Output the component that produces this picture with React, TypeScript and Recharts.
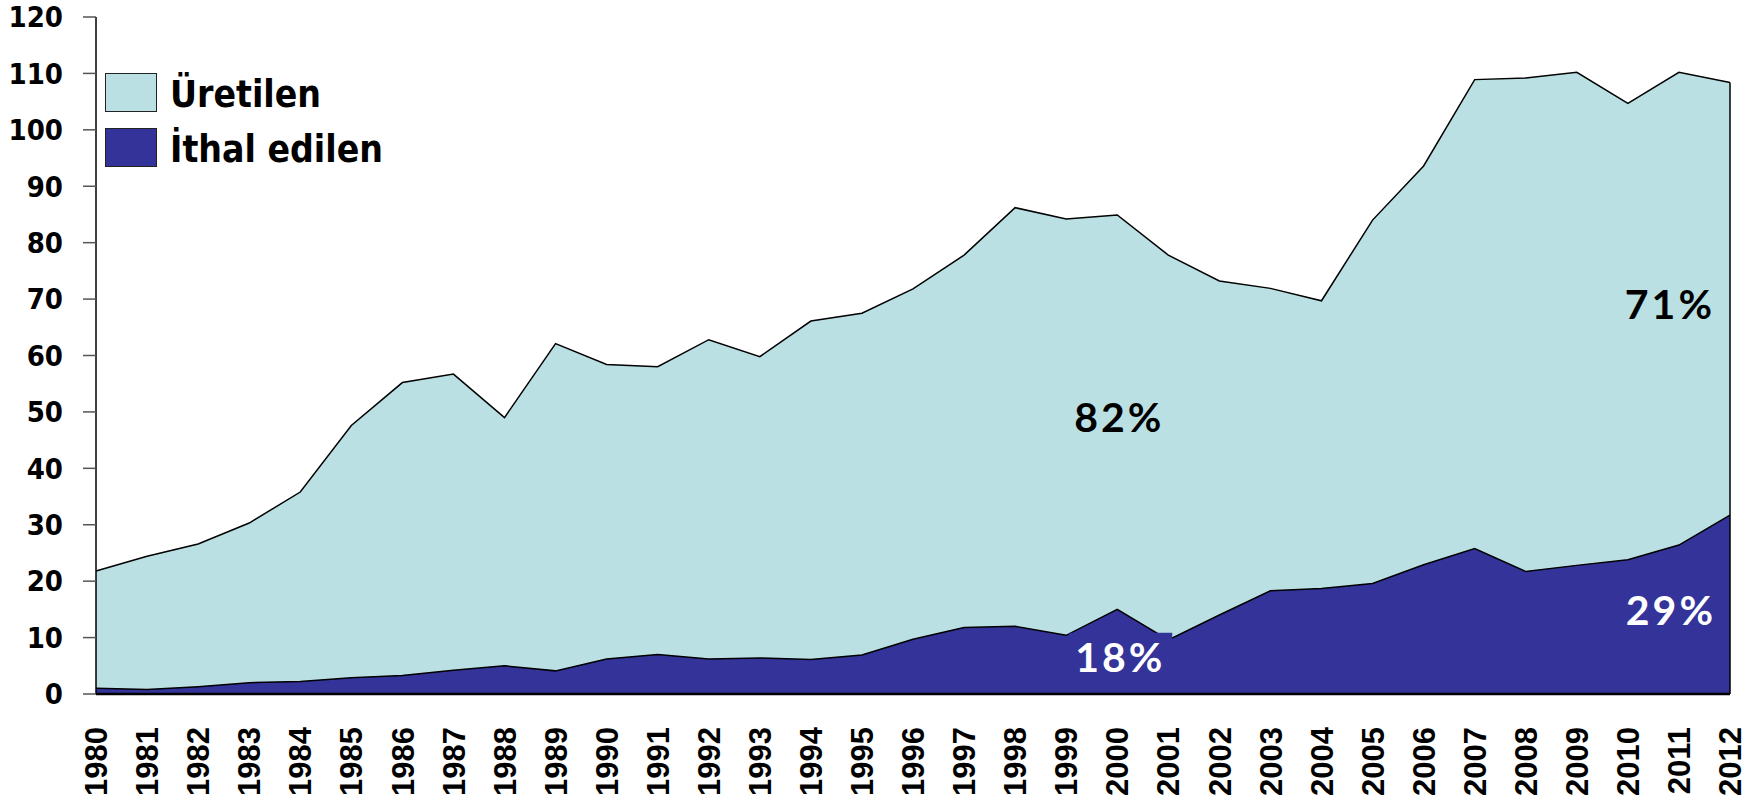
import React from 'react';
import { AreaChart, Area, XAxis, YAxis, ReferenceDot, ReferenceLine } from 'recharts';

const years = ['1980','1981','1982','1983','1984','1985','1986','1987','1988','1989','1990','1991','1992','1993','1994','1995','1996','1997','1998','1999','2000','2001','2002','2003','2004','2005','2006','2007','2008','2009','2010','2011','2012'];

const uretilen = [20.8, 23.6, 25.3, 28.3, 33.6, 44.7, 51.9, 52.5, 44.0, 58.0, 52.2, 51.0, 56.6, 53.4, 60.0, 60.6, 62.1, 66.0, 74.2, 73.8, 69.9, 68.2, 59.2, 53.6, 51.0, 64.4, 70.7, 83.1, 87.5, 87.4, 80.9, 83.8, 76.7];

const ithal = [1.0, 0.8, 1.3, 2.0, 2.2, 2.9, 3.3, 4.2, 5.0, 4.1, 6.2, 7.0, 6.2, 6.4, 6.1, 6.9, 9.7, 11.8, 12.0, 10.4, 15.0, 9.6, 14.0, 18.3, 18.7, 19.6, 22.9, 25.8, 21.7, 22.8, 23.8, 26.4, 31.7];

const yTicks = [0, 10, 20, 30, 40, 50, 60, 70, 80, 90, 100, 110, 120];

const legendItems = [
  { label: 'Üretilen', color: '#BAE0E3' },
  { label: 'İthal edilen', color: '#333399' },
];

const annotations = [
  { year: '2000', value: 49.1, text: '82%', color: '#000000', dx: 2, box: false },
  { year: '2011', value: 69.3, text: '71%', color: '#000000', dx: -9, box: false },
  { year: '2000', value: 6.6, text: '18%', color: '#FFFFFF', dx: 3, box: true },
  { year: '2011', value: 14.9, text: '29%', color: '#FFFFFF', dx: -8, box: false },
];

const data = years.map((year, i) => ({
  year,
  toplam: +(uretilen[i] + ithal[i]).toFixed(2),
  ithal: ithal[i],
}));

const lastTotal = data[data.length - 1].toplam;

const XTick = (props: any) => {
  const { x, y, payload } = props;
  const ay = y + 33;
  return (
    <text
      x={x}
      y={ay}
      transform={`rotate(-90, ${x}, ${ay})`}
      textAnchor="end"
      dy="0.36em"
      fontFamily="'Liberation Sans', Arial, sans-serif"
      fontWeight="bold"
      fontSize={31}
      fill="#000"
    >
      {payload.value}
    </text>
  );
};

const makeShape = (a: any) => (props: any) => {
  const { cx, cy } = props;
  const x = cx + a.dx;
  return (
    <g>
      {a.box && <rect x={x - 51} y={cy - 24} width={103} height={48} fill="#333399" />}
      <text
        x={x}
        y={cy}
        textAnchor="middle"
        dominantBaseline="central"
        fontFamily="Lato, 'Open Sans', sans-serif"
        fontWeight={700}
        fontSize={41}
        letterSpacing={3}
        fill={a.color}
      >
        {a.text}
      </text>
    </g>
  );
};

export default function App() {
  return (
    <div style={{ position: 'absolute', left: 0, top: 0, width: 1758, height: 811 }}>
      <AreaChart
        width={1758}
        height={811}
        data={data}
        margin={{ top: 17, right: 28, bottom: 0, left: 0 }}
      >
        <XAxis
          dataKey="year"
          interval={0}
          height={117}
          tickLine={false}
          tickSize={0}
          tickMargin={0}
          axisLine={{ stroke: '#000', strokeWidth: 2.5 }}
          tick={<XTick />}
        />
        <YAxis
          domain={[0, 120]}
          ticks={yTicks}
          interval={0}
          width={96}
          tickSize={13}
          tickMargin={20}
          axisLine={{ stroke: '#000', strokeWidth: 1.5 }}
          tickLine={{ stroke: '#555', strokeWidth: 1.5 }}
          tick={{
            fill: '#000',
            fontSize: 29,
            fontWeight: 'bold',
            fontFamily: "'DejaVu Sans Condensed', 'DejaVu Sans', sans-serif",
          }}
        />
        <Area
          type="linear"
          dataKey="toplam"
          stroke="#000"
          strokeWidth={1.5}
          fill="#BAE0E3"
          fillOpacity={1}
          isAnimationActive={false}
          dot={false}
          activeDot={false}
        />
        <Area
          type="linear"
          dataKey="ithal"
          stroke="#000"
          strokeWidth={1.5}
          fill="#333399"
          fillOpacity={1}
          isAnimationActive={false}
          dot={false}
          activeDot={false}
        />
        <ReferenceLine
          segment={[{ x: years[years.length - 1], y: 0 }, { x: years[years.length - 1], y: lastTotal }]}
          stroke="#000"
          strokeWidth={1.5}
        />
        {annotations.map((a, i) => (
          <ReferenceDot key={i} x={a.year} y={a.value} r={0} shape={makeShape(a)} />
        ))}
      </AreaChart>
      <div style={{ position: 'absolute', left: 105, top: 72 }}>
        {legendItems.map((it, i) => (
          <div key={i} style={{ display: 'flex', alignItems: 'center', height: 40, marginBottom: 15 }}>
            <div
              style={{
                width: 50,
                height: 37,
                background: it.color,
                border: '1.5px solid #222',
                marginRight: 13,
                flexShrink: 0,
              }}
            />
            <span
              style={{
                fontFamily: "'DejaVu Sans Condensed', 'DejaVu Sans', sans-serif",
                fontWeight: 'bold',
                fontSize: 37,
                color: '#000',
                lineHeight: '40px',
                whiteSpace: 'nowrap',
                position: 'relative',
                top: 3,
              }}
            >
              {it.label}
            </span>
          </div>
        ))}
      </div>
    </div>
  );
}
